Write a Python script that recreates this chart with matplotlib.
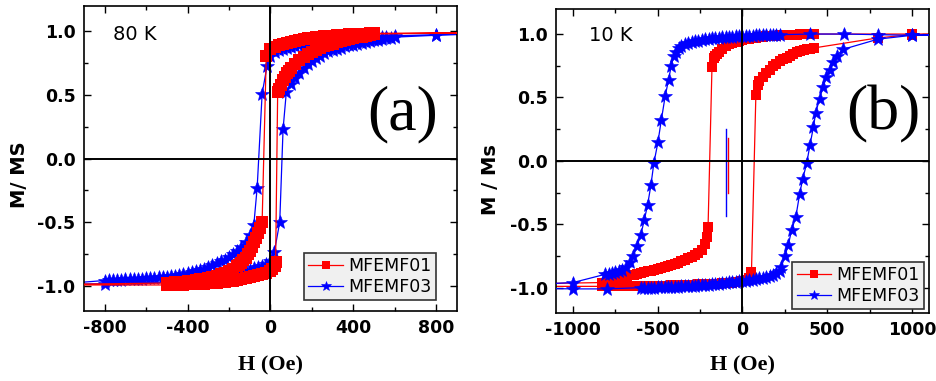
import matplotlib
matplotlib.use("Agg")
import matplotlib.pyplot as plt
from matplotlib.ticker import MultipleLocator

plt.rcParams["font.family"] = ["DejaVu Sans"]
plt.rcParams["font.weight"] = "bold"
plt.rcParams["axes.unicode_minus"] = False

# ---------------- Panel (a): 80 K ----------------
# MFEMF01 descending branch
a01_h_down = [1000, 500, 480, 460, 440, 420, 400, 380, 360, 340, 320, 300, 280, 260, 240,
              220, 200, 180, 160, 140, 120, 100, 80, 60, 40, 20, 0, -20, -40, -50, -60,
              -70, -80, -90, -100, -110, -120, -130, -140, -150, -160, -180, -200, -220,
              -240, -260, -280, -300, -320, -340, -360, -380, -400, -420, -440, -460, -480,
              -500, -1000]
a01_m_down = [0.99, 0.985, 0.984, 0.983, 0.982, 0.98, 0.979, 0.977, 0.975, 0.973, 0.971,
              0.968, 0.965, 0.962, 0.958, 0.954, 0.95, 0.945, 0.94, 0.934, 0.927, 0.92,
              0.912, 0.903, 0.893, 0.88, 0.86, 0.81, -0.5, -0.55, -0.59, -0.625, -0.66,
              -0.695, -0.725, -0.755, -0.78, -0.80, -0.82, -0.835, -0.848, -0.87, -0.887,
              -0.9, -0.912, -0.922, -0.93, -0.938, -0.945, -0.95, -0.955, -0.96, -0.965,
              -0.968, -0.971, -0.974, -0.977, -0.98, -0.99]
# MFEMF01 ascending branch
a01_h_up = [-1000, -500, -480, -460, -440, -420, -400, -380, -360, -340, -320, -300, -280,
            -260, -240, -220, -200, -180, -160, -140, -120, -100, -80, -60, -40, -20, 0,
            10, 20, 25, 35, 40, 50, 60, 70, 80, 90, 100, 120, 140, 160, 180, 200, 220, 240,
            260, 280, 300, 320, 340, 360, 380, 400, 420, 440, 460, 480, 500, 1000]
a01_m_up = [-0.995, -0.995, -0.995, -0.994, -0.993, -0.992, -0.99, -0.989, -0.988, -0.986,
            -0.984, -0.982, -0.979, -0.976, -0.973, -0.969, -0.965, -0.96, -0.955, -0.949,
            -0.942, -0.935, -0.927, -0.918, -0.908, -0.898, -0.885, -0.87, -0.845, -0.815,
            0.52, 0.545, 0.58, 0.615, 0.645, 0.67, 0.69, 0.71, 0.745, 0.775, 0.80, 0.82,
            0.84, 0.855, 0.87, 0.885, 0.895, 0.905, 0.915, 0.925, 0.932, 0.94, 0.947, 0.953,
            0.96, 0.967, 0.973, 0.98, 0.99]

# MFEMF03 descending branch
a03_h_down = [1000, 800, 600, 560, 540, 520, 500, 480, 460, 440, 420, 400, 380, 360, 340,
              320, 300, 280, 260, 240, 220, 200, 180, 160, 140, 120, 100, 80, 60, 40, 20, 0,
              -16, -40, -64, -80, -100, -120, -140, -160, -180, -200, -220, -240, -260, -280,
              -300, -320, -340, -360, -380, -400, -420, -440, -460, -480, -500, -520, -540,
              -560, -580, -600, -620, -640, -660, -680, -700, -720, -740, -760, -780, -800,
              -1000]
a03_m_down = [0.98, 0.975, 0.965, 0.955, 0.953, 0.951, 0.949, 0.947, 0.945, 0.943, 0.941,
              0.94, 0.937, 0.934, 0.931, 0.928, 0.925, 0.921, 0.917, 0.913, 0.909, 0.905,
              0.9, 0.895, 0.89, 0.883, 0.876, 0.868, 0.86, 0.85, 0.835, 0.81, 0.73, 0.51,
              -0.23, -0.52, -0.6, -0.655, -0.695, -0.725, -0.75, -0.775, -0.795, -0.81,
              -0.825, -0.84, -0.855, -0.868, -0.88, -0.888, -0.896, -0.903, -0.91, -0.916,
              -0.921, -0.926, -0.93, -0.933, -0.936, -0.939, -0.941, -0.943, -0.945, -0.947,
              -0.948, -0.95, -0.952, -0.953, -0.955, -0.957, -0.958, -0.96, -0.985]
# MFEMF03 ascending branch
a03_h_up = [-1000, -800, -400, -300, -260, -240, -220, -200, -180, -160, -140, -120,
            -100, -80, -60, -40, -20, 0, 19, 45, 61, 77, 100, 120, 140, 160, 180, 200, 220,
            240, 260, 280, 300, 320, 340, 360, 380, 400, 420, 440, 460, 480, 500, 520, 540,
            560, 580, 600, 800, 1000]
a03_m_up = [-0.99, -0.985, -0.968, -0.945, -0.93, -0.925, -0.92, -0.915, -0.908,
            -0.9, -0.892, -0.884, -0.875, -0.865, -0.855, -0.845, -0.83, -0.805, -0.735,
            -0.50, 0.23, 0.527, 0.585, 0.635, 0.675, 0.71, 0.74, 0.77, 0.79, 0.81, 0.828,
            0.843, 0.855, 0.865, 0.873, 0.882, 0.89, 0.897, 0.904, 0.91, 0.917, 0.923, 0.93,
            0.936, 0.942, 0.948, 0.952, 0.955, 0.97, 0.98]

# ---------------- Panel (b): 10 K ----------------
b01_h_down = [1500, 1000, 420, 400, 380, 360, 340, 320, 300, 280, 260, 240, 220, 200, 180,
              160, 140, 120, 100, 80, 60, 40, 20, 0, -20, -40, -60, -80, -100, -120, -140,
              -150, -160, -170, -180, -203, -210, -223, -240, -260, -280, -300, -320, -340,
              -360, -380, -400, -420, -440, -460, -480, -500, -520, -540, -560, -580, -600,
              -620, -640, -660, -680, -700, -720, -740, -760, -780, -800, -830, -1500]
b01_m_down = [1.0, 1.0, 1.0, 1.0, 0.999, 0.998, 0.997, 0.996, 0.995, 0.994, 0.993, 0.992,
              0.99, 0.988, 0.986, 0.984, 0.981, 0.978, 0.975, 0.971, 0.967, 0.962, 0.957,
              0.951, 0.945, 0.938, 0.93, 0.918, 0.903, 0.885, 0.86, 0.845, 0.83, 0.81, 0.737,
              -0.518, -0.6, -0.657, -0.7, -0.725, -0.742, -0.756, -0.768, -0.78, -0.792,
              -0.802, -0.812, -0.821, -0.829, -0.837, -0.845, -0.852, -0.859, -0.865, -0.872,
              -0.878, -0.884, -0.89, -0.897, -0.903, -0.91, -0.917, -0.924, -0.931, -0.938,
              -0.945, -0.952, -0.96, -0.975]
b01_h_up = [-1500, -830, -800, -780, -760, -740, -720, -700, -680, -660, -640, -620, -600,
            -580, -560, -540, -520, -500, -480, -460, -440, -420, -400, -380, -360, -340,
            -320, -300, -280, -260, -240, -220, -200, -180, -160, -140, -120, -100, -80, -60,
            -40, -20, 0, 20, 40, 53, 79, 90, 100, 120, 140, 160, 180, 200, 220, 240, 260,
            280, 300, 320, 340, 360, 380, 400, 420, 800, 1000, 1500]
b01_m_up = [-0.99, -0.99, -0.99, -0.99, -0.99, -0.99, -0.99, -0.99, -0.99, -0.989, -0.989,
            -0.989, -0.988, -0.988, -0.987, -0.987, -0.986, -0.986, -0.985, -0.985, -0.984,
            -0.983, -0.982, -0.981, -0.98, -0.979, -0.978, -0.977, -0.976, -0.975, -0.974,
            -0.973, -0.972, -0.971, -0.97, -0.969, -0.967, -0.965, -0.963, -0.96, -0.957,
            -0.953, -0.948, -0.94, -0.925, -0.876, 0.519, 0.6, 0.63, 0.665, 0.695, 0.72,
            0.745, 0.765, 0.785, 0.80, 0.815, 0.83, 0.843, 0.855, 0.865, 0.873, 0.88, 0.885,
            0.89, 0.97, 0.995, 1.0]

b03_h_down = [1500, 1000, 800, 600, 400, 220, 200, 180, 160, 140, 120, 100, 80, 60, 40, 20,
              0, -20, -40, -60, -80, -100, -120, -140, -160, -180, -200, -220, -240, -260,
              -280, -300, -320, -340, -360, -375, -390, -405, -420, -436, -456, -479, -499,
              -523, -540, -560, -580, -600, -622, -643, -665, -688, -710, -730, -750, -770,
              -790, -810, -1000, -1500]
b03_m_down = [1.0, 0.99, 0.995, 1.0, 1.0, 0.995, 0.995, 0.994, 0.993, 0.992, 0.991, 0.99,
              0.989, 0.988, 0.987, 0.986, 0.985, 0.984, 0.982, 0.98, 0.978, 0.976, 0.974,
              0.971, 0.968, 0.965, 0.962, 0.958, 0.954, 0.949, 0.944, 0.938, 0.93, 0.92,
              0.907, 0.89, 0.86, 0.83, 0.75, 0.64, 0.51, 0.32, 0.145, -0.02, -0.19, -0.35,
              -0.47, -0.585, -0.67, -0.75, -0.80, -0.84, -0.86, -0.87, -0.88, -0.885, -0.89,
              -0.895, -0.96, -0.99]
b03_h_up = [-1500, -1000, -800, -600, -580, -560, -540, -520, -500, -480, -460, -440, -420,
            -400, -380, -360, -340, -320, -300, -280, -260, -240, -220, -200, -180, -160,
            -140, -120, -100, -80, -60, -40, -20, 0, 20, 40, 60, 80, 100, 120, 140, 160, 180,
            200, 220, 230, 250, 270, 290, 315, 337, 355, 379, 398, 418, 432, 455, 475, 495,
            515, 535, 555, 595, 800, 1000, 1500]
b03_m_up = [-1.0, -1.01, -1.01, -1.0, -1.0, -1.0, -1.0, -0.999, -0.998, -0.997, -0.996,
            -0.995, -0.994, -0.993, -0.992, -0.991, -0.99, -0.988, -0.986, -0.984, -0.982,
            -0.98, -0.978, -0.976, -0.974, -0.971, -0.968, -0.965, -0.962, -0.959, -0.956,
            -0.953, -0.95, -0.947, -0.944, -0.94, -0.936, -0.932, -0.927, -0.922, -0.916,
            -0.909, -0.9, -0.888, -0.87, -0.835, -0.75, -0.665, -0.545, -0.44, -0.263,
            -0.144, -0.018, 0.124, 0.263, 0.38, 0.49, 0.58, 0.66, 0.72, 0.78, 0.83, 0.88,
            0.96, 0.99, 1.0]

# stray vertical segments in panel (b)
b_seg03_h = [-95, -95]
b_seg03_m = [0.25, -0.434]
b_seg01_h = [-85, -85]
b_seg01_m = [0.177, -0.25]

labels = ["MFEMF01", "MFEMF03"]
RED = "#ff0000"
BLUE = "#0000ff"

fig = plt.figure(figsize=(9.37, 3.81), dpi=100)
axA = fig.add_axes([0.0896, 0.1837, 0.398, 0.8005])
axB = fig.add_axes([0.5934, 0.1785, 0.398, 0.7987])


def style(ax, xlim, xmajor, xminor):
    ax.set_xlim(*xlim)
    ax.set_ylim(-1.2, 1.2)
    ax.xaxis.set_major_locator(MultipleLocator(xmajor))
    ax.xaxis.set_minor_locator(MultipleLocator(xminor))
    ax.yaxis.set_major_locator(MultipleLocator(0.5))
    ax.yaxis.set_minor_locator(MultipleLocator(0.25))
    ax.tick_params(which="both", direction="in", top=True, right=True, width=1.0)
    ax.tick_params(which="major", length=5, labelsize=12.5, pad=6)
    ax.tick_params(which="minor", length=3)
    for s in ax.spines.values():
        s.set_linewidth(1.2)
    ax.axhline(0, color="k", lw=1.4, zorder=4)
    ax.axvline(0, color="k", lw=1.4, zorder=4)


style(axA, (-900, 900), 400, 200)
style(axB, (-1100, 1100), 500, 250)

# panel a
axA.plot(a01_h_down + a01_h_up, a01_m_down + a01_m_up, color=RED, marker="s", ms=8,
         mew=0, lw=0.9, label=labels[0], zorder=3)
axA.plot(a03_h_down + a03_h_up, a03_m_down + a03_m_up, color=BLUE, marker="*", ms=10,
         mew=0.4, lw=0.9, label=labels[1], zorder=2)

# panel b
axB.plot(b01_h_down + b01_h_up, b01_m_down + b01_m_up, color=RED, marker="s", ms=7.5,
         mew=0, lw=0.9, label=labels[0], zorder=2)
axB.plot(b03_h_down + b03_h_up, b03_m_down + b03_m_up, color=BLUE, marker="*", ms=10,
         mew=0.4, lw=0.9, label=labels[1], zorder=3)
axB.plot(b_seg03_h, b_seg03_m, color=BLUE, lw=1.0, zorder=3)
axB.plot(b_seg01_h, b_seg01_m, color=RED, lw=1.0, zorder=3)

for ax, anchor in ((axA, (0.944, 0.036)), (axB, (0.987, 0.012))):
    leg = ax.legend(loc="lower right", bbox_to_anchor=anchor, frameon=True, fancybox=False,
                    edgecolor="#333333", facecolor="#f0f0f0", framealpha=1,
                    prop={"weight": "normal", "size": 12.5}, handlelength=2.0,
                    handletextpad=0.3, borderpad=0.25, labelspacing=0.15,
                    borderaxespad=0, markerscale=0.75, numpoints=1)
    leg.get_frame().set_linewidth(1.2)
    leg.set_zorder(6)

axA.text(0.077, 0.905, "80 K", transform=axA.transAxes, fontsize=14, fontweight="normal",
         ha="left", va="center")
axB.text(0.089, 0.911, "10 K", transform=axB.transAxes, fontsize=14, fontweight="normal",
         ha="left", va="center")
axA.text(0.855, 0.646, "(a)", transform=axA.transAxes, fontsize=46, family="Liberation Serif",
         fontweight="normal", ha="center", va="center")
axB.text(0.879, 0.654, "(b)", transform=axB.transAxes, fontsize=46, family="Liberation Serif",
         fontweight="normal", ha="center", va="center")

for ax, ylab, xl_y, yl_x, yl_y in ((axA, "M/ MS", -0.179, -0.172, 0.446),
                                   (axB, "M / Ms", -0.171, -0.175, 0.44)):
    ax.set_xlabel("H (Oe)", family="Liberation Serif", fontweight="bold", fontsize=16)
    ax.xaxis.label.set_verticalalignment("center")
    ax.xaxis.set_label_coords(0.5, xl_y)
    ax.set_ylabel(ylab, fontweight="bold", fontsize=14)
    ax.yaxis.label.set_verticalalignment("center")
    ax.yaxis.set_label_coords(yl_x, yl_y)

fig.savefig("out.png", dpi=100)
